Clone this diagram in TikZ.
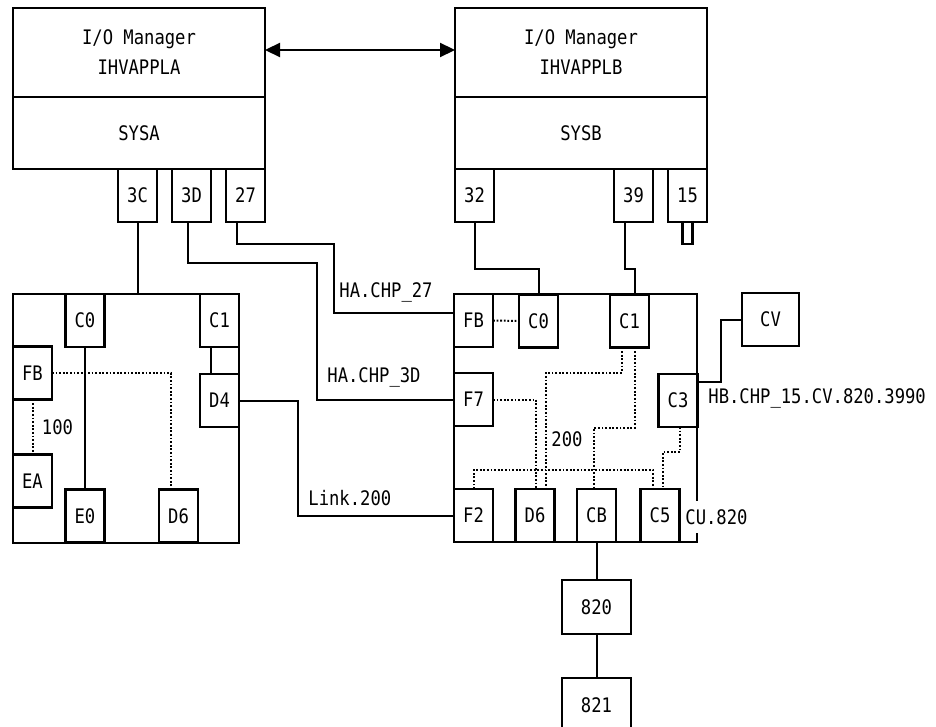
\documentclass[tikz,border=0pt]{standalone}
\usepackage{fontspec}
\setmonofont[FakeStretch=0.86]{DejaVu Sans Mono}
\usepackage{tikz}
\usetikzlibrary{positioning, arrows.meta}
\tikzset{every node/.style={font=\ttfamily\fontsize{10}{15}\selectfont},
mgr/.style={draw, line width=1.1pt, inner sep=0pt, outer sep=0pt, minimum width=126pt, minimum height=44.5pt, align=center},
sys/.style={draw, line width=1.1pt, inner sep=0pt, outer sep=0pt, minimum width=126pt, minimum height=36pt},
chp/.style={draw, line width=1.1pt, inner sep=0pt, outer sep=0pt, minimum width=19.5pt, minimum height=26.5pt},
swbox/.style={draw, line width=1.1pt, inner sep=0pt, outer sep=0pt},
link/.style={line width=1pt},
dotline/.style={line width=1pt, dash pattern=on 0.9pt off 0.9pt},
lbl/.style={inner sep=0pt},
}

\begin{document}
\begin{tikzpicture}[x=0.5pt, y=-0.5pt]
            \useasboundingbox (0,0) rectangle (936,727);
            \clip (0,0) rectangle (936,727);

            \node[mgr] (mgrA) at (139,52.5) {I/O Manager\\IHVAPPLA};
            \node[sys, below=0pt of mgrA] (sysA) {SYSA};
            \node[mgr, right=95pt of mgrA] (mgrB) {I/O Manager\\IHVAPPLB};
            \node[sys, below=0pt of mgrB] (sysB) {SYSB};
            \draw[{Triangle[length=7.5pt,width=7pt]}-{Triangle[length=7.5pt,width=7pt]}, line width=1.1pt]
                  ([yshift=1.25pt]mgrA.east) -- ([yshift=1.25pt]mgrB.west);

            \node[chp, below left=0pt of sysA.south east] (p27) {27};
            \node[chp, left=7.5pt of p27] (p3D) {3D};
            \node[chp, left=7.5pt of p3D] (p3C) {3C};
            \node[chp, below right=0pt of sysB.south west] (p32) {32};
            \node[chp, below left=0pt of sysB.south east] (p15) {15};
            \node[chp, left=7.5pt of p15] (p39) {39};
            \node[swbox, minimum width=5pt, minimum height=11pt, below=0pt of p15] (p15end) {};

            \node[swbox, minimum width=113pt, minimum height=124.5pt] (lsw) at (126,418.5) {};
            \node[chp] (lC0) at (85,320.5) {C0};
            \node[chp, below left=0pt of lsw.north east] (lC1) {C1};
            \node[chp] (lFB) at (32.5,373) {FB};
            \node[chp] (lD4) at (219.5,400.5) {D4};
            \node[chp] (lEA) at (32.5,481) {EA};
            \node[chp] (lE0) at (85,516) {E0};
            \node[chp] (lD6) at (178.5,516) {D6};
            \node[lbl] (l100) at (57.5,427) {100};

            \node[swbox, minimum width=121.5pt, minimum height=124pt] (rsw) at (575.5,418) {};
            \node[chp, below right=0pt of rsw.north west] (rFB) {FB};
            \node[chp] (rC0) at (538.5,321) {C0};
            \node[chp] (rC1) at (629.5,321) {C1};
            \node[chp] (rF7) at (473.5,399.5) {F7};
            \node[chp] (rC3) at (678,400.5) {C3};
            \node[chp, above right=0pt of rsw.south west] (rF2) {F2};
            \node[chp] (rD6) at (535,515.5) {D6};
            \node[chp] (rCB) at (596.5,515.5) {CB};
            \node[chp] (rC5) at (660,515.5) {C5};
            \node[lbl] (l200) at (567,439) {200};
            \node[lbl, anchor=west, fill=white, inner ysep=4pt] (cu) at (685,517) {CU.820};

            \node[chp, minimum width=28.5pt] (cv) at (770.5,319.5) {CV};
            \node[chp, minimum width=34.5pt, minimum height=27pt] (b820) at (596.5,607) {820};
            \node[chp, minimum width=34.5pt, minimum height=27pt, below=22pt of b820] (b821) {821};

            \node[lbl, anchor=west] (ha27) at (339,292) {HA.CHP\_27};
            \node[lbl, anchor=west] (ha3D) at (327,377) {HA.CHP\_3D};
            \node[lbl, anchor=west] (lnk) at (308,498) {Link.200};
            \node[lbl, anchor=west] (hb15) at (708,398) {HB.CHP\_15.CV.820.3990};

            \draw[link] (p3C) -- (p3C |- lsw.north);
            \draw[link] ([xshift=-1.75pt]p3D.south) |- (317,263) |- (rF7.west);
            \draw[link] ([xshift=-4.25pt]p27.south) |- (334,244) |- ([yshift=4pt]rFB.west);
            \draw[link] (lD4.east) -| (298,470) |- (rF2.west);
            \draw[link] (p32.south) -- ++(0,-23.5pt) -| (rC0.north);
            \draw[link] ([xshift=-4.25pt]p39.south) -- ++(0,-23.5pt) -| ([xshift=2.75pt]rC1.north);
            \draw[link] ([yshift=9.25pt]rC3.east) -- ++(11.5pt,0) |- (cv.west);
            \draw[link] (lC0) -- (lE0);
            \draw[link] ([xshift=-4.5pt]lC1.south) -- ([xshift=-4.5pt]lD4.north);
            \draw[link] (rCB) edge (b820)
                        (b820) edge (b821);

            \draw[dotline] (lFB.east) -| ([xshift=-3.75pt]lD6.north);
            \draw[dotline] (lFB) -- (lEA);
            \draw[dotline] (rFB) -- (rC0);
            \draw[dotline] ([xshift=-3.75pt]rC1.south) -- ++(0,-12.5pt) -| ([xshift=5.5pt]rD6.north);
            \draw[dotline] (rF7.east) -| ([xshift=0.5pt]rD6.north);
            \draw[dotline] ([xshift=2.75pt]rC1.south) -- ++(0,-40pt) -| ([xshift=-1.25pt]rCB.north);
            \draw[dotline] (rF2.north) -- ++(0,9.5pt) -| ([xshift=-3.5pt]rC5.north);
            \draw[dotline] ([xshift=1pt]rC3.south) -- ++(0,-12.5pt) -| ([xshift=1.5pt]rC5.north);
        \end{tikzpicture}
\end{document}
